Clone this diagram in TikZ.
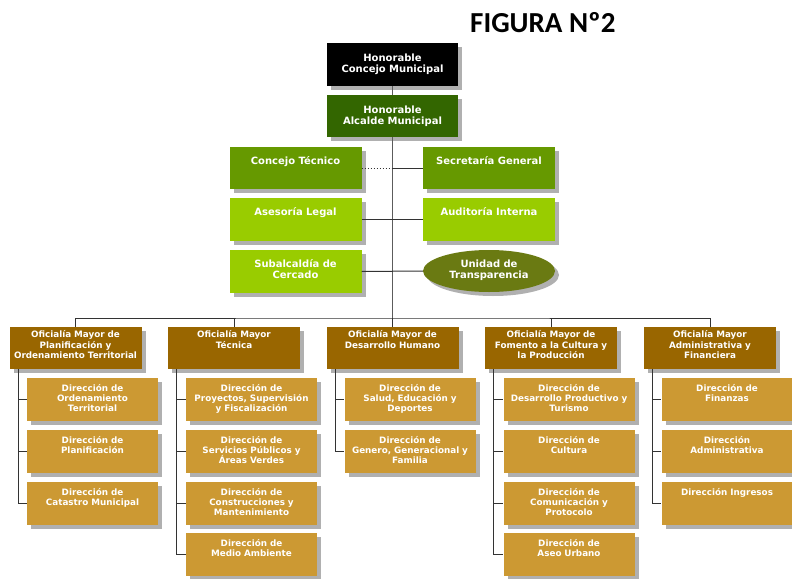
\documentclass[tikz,border=0pt]{standalone}
\usepackage{fontspec}
\newfontfamily\boxfont{DejaVu Sans}
\newfontfamily\titlefont{Carlito}
\usetikzlibrary{shapes.geometric,shadows,backgrounds}
\definecolor{cblack}{HTML}{000000}
\definecolor{cdark}{HTML}{336600}
\definecolor{cmid}{HTML}{669900}
\definecolor{clight}{HTML}{99CC00}
\definecolor{colive}{HTML}{6A7A12}
\definecolor{cbrown}{HTML}{996600}
\definecolor{cgold}{HTML}{CC9933}
\definecolor{cshadow}{HTML}{B0B0B0}
\definecolor{cline}{HTML}{333333}
\tikzset{
  shad/.style={general shadow={fill=cshadow, shadow xshift=4pt, shadow yshift=-4pt}},
  bigbox/.style={rectangle, inner sep=0pt, minimum width=132pt, minimum height=43pt, shad},
  ofbox/.style={rectangle, inner sep=0pt, minimum width=132pt, minimum height=42pt, fill=cbrown, shad},
  subbox/.style={rectangle, inner sep=0pt, minimum width=131pt, minimum height=43pt, fill=cgold, shad},
  bigtxt/.style={text=white, font=\boxfont\bfseries\fontsize{10}{10.8}\selectfont, align=center, text width=150pt, anchor=base, inner sep=0pt},
  smalltxt/.style={text=white, font=\boxfont\bfseries\fontsize{8.8}{10.2}\selectfont, align=center, text width=150pt, anchor=base, inner sep=0pt},
  conn/.style={draw=cline, line width=1pt},
}
\newcommand\mkof[4]{\node[ofbox] (#1) at (#2,#3) {};
  \node[smalltxt] (#1t) at ([yshift=-11pt]#1.north) {#4};}
\newcommand\mksub[4]{\node[subbox] (#1) at (#2,#3) {};
  \node[smalltxt] (#1t) at ([yshift=-13.5pt]#1.north) {#4};}
\begin{document}
\begin{tikzpicture}[x=1pt,y=-1pt]
\useasboundingbox (0,0) rectangle (792,578);
\node[anchor=base west, inner sep=0pt, font=\titlefont\bfseries\fontsize{29}{30}\selectfont] (title) at (470,32.3) {FIGURA Nº2};

% top
\node[bigbox, fill=cblack, minimum width=131pt] (hcm) at (392.5,64.5) {};
\node[bigtxt] (hcmt) at ([yshift=-18.5pt]hcm.north) {Honorable\\Concejo Municipal};
\node[bigbox, fill=cdark, minimum width=131pt, minimum height=42pt] (alc) at (392.5,116) {};
\node[bigtxt] (alct) at ([yshift=-18.5pt]alc.north) {Honorable\\Alcalde Municipal};

% middle
\node[bigbox, fill=cmid, minimum height=42pt] (ct) at (295.5,168) {};
\node[bigtxt] (ctt) at ([yshift=-18pt]ct.north) {Concejo Técnico};
\node[bigbox, fill=cmid, minimum height=42pt] (sg) at (489,168) {};
\node[bigtxt] (sgt) at ([yshift=-18pt]sg.north) {Secretaría General};
\node[bigbox, fill=clight] (al) at (295.5,219.5) {};
\node[bigtxt] (alt) at ([yshift=-18pt]al.north) {Asesoría Legal};
\node[bigbox, fill=clight] (ai) at (489,219.5) {};
\node[bigtxt] (ait) at ([yshift=-18pt]ai.north) {Auditoría Interna};
\node[bigbox, fill=clight] (sc) at (295.5,271.5) {};
\node[bigtxt] (sct) at ([yshift=-18pt]sc.north) {Subalcaldía de\\Cercado};
\node[ellipse, inner sep=0pt, minimum width=132pt, minimum height=42pt, fill=colive, shad] (ut) at (489,271) {};
\node[bigtxt] (utt) at (489,267.5) {Unidad de\\Transparencia};

% oficialias
\mkof{of1}{75.5}{348}{Oficialía Mayor de\\Planificación y\\Ordenamiento Territorial}
\mkof{of2}{234}{348}{Oficialía Mayor\\Técnica}
\mkof{of3}{392.5}{348}{Oficialía Mayor de\\Desarrollo Humano}
\mkof{of4}{551}{348}{Oficialía Mayor de\\Fomento a la Cultura y\\la Producción}
\mkof{of5}{710}{348}{Oficialía Mayor\\Administrativa y\\Financiera}

% direcciones
\mksub{s11}{92.5}{399.5}{Dirección de\\Ordenamiento\\Territorial}
\mksub{s12}{92.5}{451.5}{Dirección de\\Planificación}
\mksub{s13}{92.5}{503.5}{Dirección de\\Catastro Municipal}
\mksub{s21}{251.5}{399.5}{Dirección de\\Proyectos, Supervisión\\y Fiscalización}
\mksub{s22}{251.5}{451.5}{Dirección de\\Servicios Públicos y\\Áreas Verdes}
\mksub{s23}{251.5}{503.5}{Dirección de\\Construcciones y\\Mantenimiento}
\mksub{s24}{251.5}{554.5}{Dirección de\\Medio Ambiente}
\mksub{s31}{410}{399.5}{Dirección de\\Salud, Educación y\\Deportes}
\mksub{s32}{410}{451.5}{Dirección de\\Genero, Generacional y\\Familia}
\mksub{s41}{569}{399.5}{Dirección de\\Desarrollo Productivo y\\Turismo}
\mksub{s42}{569}{451.5}{Dirección de\\Cultura}
\mksub{s43}{569}{503.5}{Dirección de\\Comunicación y\\Protocolo}
\mksub{s44}{569}{554.5}{Dirección de\\Aseo Urbano}
\mksub{s51}{727}{399.5}{Dirección de\\Finanzas}
\mksub{s52}{727}{451.5}{Dirección\\Administrativa}
\mksub{s53}{727}{503.5}{Dirección Ingresos}

\coordinate (bus) at (392.5,318);

\draw[conn, draw=cline!80] (hcm.south) -- (alc.north);
\draw[conn, draw=cline!80] (alc.south) -- (bus);
\draw[conn, dotted] (ct.east) -- (ct.east -| alc.south);
\draw[conn] (ct.east -| alc.south) -- (sg.west);
\draw[conn] (al.east) -- (ai.west);
\draw[conn] (sc.east) -- (ut.west);
\draw[conn] (of1.north) |- (bus) -| (of5.north);
\foreach \c in {2,3,4} {\draw[conn] (of\c.north) -- (of\c.north |- bus);}
\foreach \c/\last in {1/3,2/4,3/2,4/4,5/3} {
  \coordinate (v\c) at ([xshift=9pt]of\c.south west);
  \draw[conn] (v\c) |- (s\c\last.west);
  \foreach \r in {1,...,\last} {\draw[conn] (v\c |- s\c\r.west) -- (s\c\r.west);}
}
\end{tikzpicture}
\end{document}
